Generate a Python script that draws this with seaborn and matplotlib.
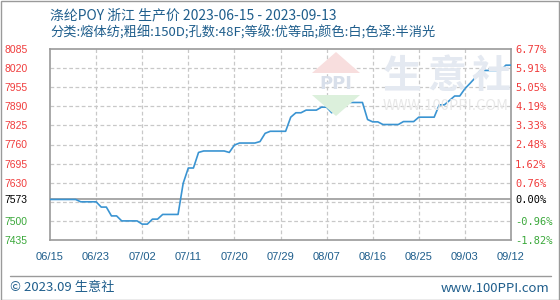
import matplotlib
matplotlib.use("Agg")
import matplotlib.pyplot as plt
from matplotlib.patches import Polygon
from matplotlib.lines import Line2D
from matplotlib.patches import Rectangle
import seaborn as sns
import pandas as pd

# ---- data ----
title = "涤纶POY 浙江 生产价 2023-06-15 - 2023-09-13"
subtitle = "分类:熔体纺;粗细:150D;孔数:48F;等级:优等品;颜色:白;色泽:半消光"
base_price = 7573
days = list(range(91))
prices = ([7573] * 6 + [7565] * 4 + [7547] * 2 + [7517] * 2 + [7500] * 4 +
          [7489] * 2 + [7506] * 2 + [7522] * 4 + [7628] + [7680] * 2 + [7733] +
          [7738] * 5 + [7733] + [7758] + [7765] * 4 + [7770] + [7798] +
          [7805] * 4 + [7853] + [7868] * 2 + [7877] * 3 + [7887] * 2 + [7868] +
          [7885] + [7903] * 5 + [7845] + [7837] * 2 + [7828] * 4 + [7838] * 3 +
          [7853] * 4 + [7895] * 2 + [7910] + [7925] * 2 + [7950] + [7968] +
          [7987] + [8012] * 5 + [8030] * 2)
y_ticks = [8085, 8020, 7955, 7890, 7825, 7760, 7695, 7630, 7573, 7500, 7435]
y_grid = [8085, 8020, 7955, 7890, 7825, 7760, 7695, 7630, 7565, 7500, 7435]
pct_labels = ["6.77%", "5.91%", "5.05%", "4.19%", "3.33%", "2.48%", "1.62%",
              "0.76%", "0.00%", "-0.96%", "-1.82%"]
x_tick_pos = [0, 9, 18, 27, 36, 45, 54, 63, 72, 81, 90]
x_tick_labels = ["06/15", "06/23", "07/02", "07/11", "07/20", "07/29",
                 "08/07", "08/16", "08/25", "09/03", "09/12"]

df = pd.DataFrame({"day": days, "price": prices})

sns.set_theme(style="white")
plt.rcParams["font.family"] = ["Noto Sans CJK SC", "DejaVu Sans"]

W, H = 560, 300
fig = plt.figure(figsize=(W / 100, H / 100), dpi=100)
fig.patch.set_facecolor("white")

def fx(px):
    return px / W

def fy(py):
    return 1 - py / H

ax = fig.add_axes([fx(50), fy(240), fx(511) - fx(50), fy(49) - fy(240)])
ax.set_facecolor("white")

RED = "#f03c3c"
GREEN = "#3aa83a"
BLUE_TXT = "#1f5e8c"
GRID = "#c8c8c8"
FRAME = "#9a9a9a"

# watermark
for cx, ch in zip([402, 447, 491], ["生", "意", "社"]):
    fig.text(fx(cx), fy(76), ch, fontsize=28, color="#e4e9f1", ha="center",
             va="center", zorder=0, fontweight="bold")
fig.text(fx(446), fy(106), "WWW.100PPI.COM", fontsize=10.5, color="#e8e8e8",
         ha="center", va="center", zorder=0)
fig.patches.append(Polygon([[fx(312), fy(73)], [fx(360), fy(73)], [fx(336), fy(52)]],
                           closed=True, transform=fig.transFigure,
                           facecolor="#f8dede", edgecolor="none", zorder=0))
fig.patches.append(Polygon([[fx(312), fy(95)], [fx(360), fy(95)], [fx(336), fy(116)]],
                           closed=True, transform=fig.transFigure,
                           facecolor="#dcf0dc", edgecolor="none", zorder=0))
fig.text(fx(336), fy(84), "PPI", fontsize=13, color="#d8dfea", ha="center",
         va="center", fontweight="bold", zorder=0, family="DejaVu Sans")

# grid
for g in y_grid[1:-1]:
    ax.axhline(g, color=GRID, lw=0.9, ls=(0, (3, 2)), zorder=1)
for xv in x_tick_pos[1:-1]:
    ax.axvline(xv, color=GRID, lw=0.9, ls=(0, (3, 2)), zorder=1)
ax.axhline(base_price, color=FRAME, lw=1.2, zorder=2)

sns.lineplot(data=df, x="day", y="price", ax=ax, color="#3a94d2", lw=1.2,
             zorder=3)

ax.set_xlim(0, 90)
ax.set_ylim(7435, 8085)
ax.set_xlabel("")
ax.set_ylabel("")
ax.set_yticks(y_ticks)
ax.set_yticklabels([str(v) for v in y_ticks], fontsize=7.5,
                   family="Liberation Sans")
for lab, v in zip(ax.get_yticklabels(), y_ticks):
    lab.set_color(RED if v > base_price else ("black" if v == base_price else GREEN))
ax.set_xticks(x_tick_pos)
ax.set_xticklabels(x_tick_labels, fontsize=8, color=BLUE_TXT,
                   family="Liberation Sans")
ax.tick_params(axis="y", length=0, pad=16)
ax.tick_params(axis="x", length=0, pad=9)
for s in ax.spines.values():
    s.set_color(FRAME)
    s.set_linewidth(1.2)

ax2 = ax.twinx()
ax2.set_ylim(7435, 8085)
ax2.set_yticks(y_ticks)
ax2.set_yticklabels(pct_labels, fontsize=7.5, family="DejaVu Sans Mono")
for lab, v in zip(ax2.get_yticklabels(), y_ticks):
    lab.set_color(RED if v > base_price else ("black" if v == base_price else GREEN))
ax2.tick_params(axis="y", length=0, pad=3)
ax2.grid(False)
for s in ax2.spines.values():
    s.set_visible(False)

# titles
fig.text(fx(50), fy(15), title, fontsize=10, color=BLUE_TXT, ha="left", va="center")
fig.text(fx(50), fy(33), subtitle, fontsize=9.5, color=BLUE_TXT, ha="left", va="center")

# footer
fig.add_artist(Line2D([fx(10), fx(551)], [fy(276), fy(276)], color=FRAME, lw=1.0,
                      transform=fig.transFigure))
fig.text(fx(10), fy(288), "© 2023.09 生意社", fontsize=9.5, color=BLUE_TXT,
         ha="left", va="center")
fig.text(fx(549), fy(288), "www.100PPI.com", fontsize=9.5, color=BLUE_TXT,
         ha="right", va="center")
fig.patches.append(Rectangle((0.5 / W, 0.5 / H), 1 - 1.5 / W, 1 - 1.5 / H,
                             transform=fig.transFigure, fill=False,
                             edgecolor=FRAME, lw=1.0))

fig.savefig("out.png", dpi=100, facecolor="white")
